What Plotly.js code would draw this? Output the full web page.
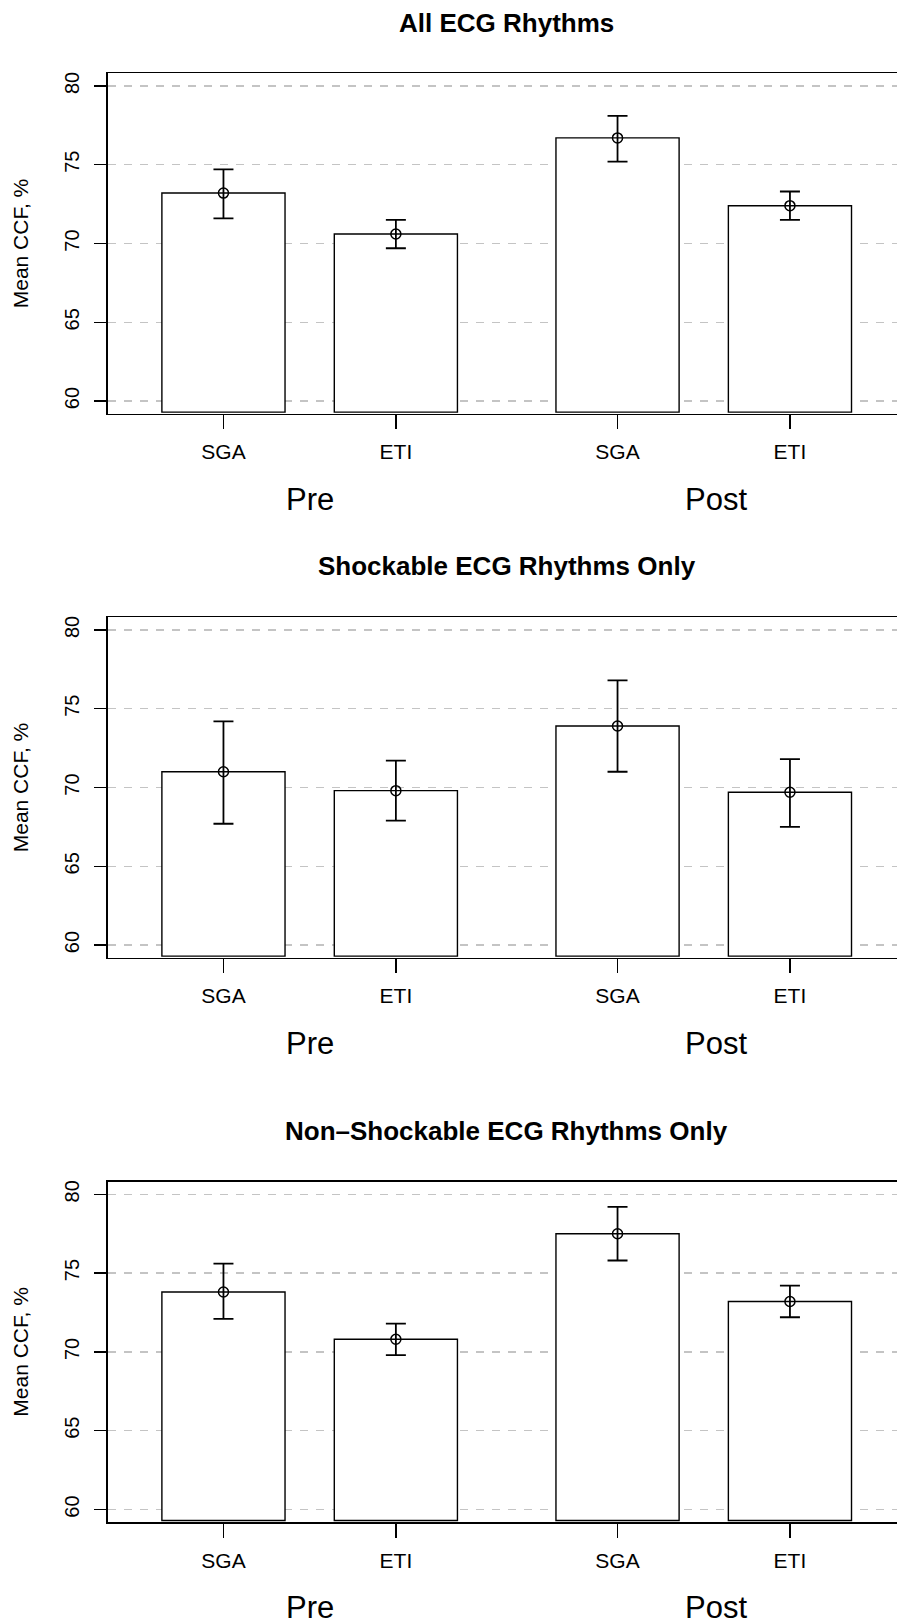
<!DOCTYPE html>
<html>
<head>
<meta charset="utf-8">
<script src="https://cdn.plot.ly/plotly-3.0.1.min.js"></script>
<style>
  html, body { margin: 0; padding: 0; background: #ffffff; overflow: hidden; }
  #chart { width: 920px; height: 1624px; }
</style>
</head>
<body>
<div id="chart"></div>
<script>
// ---- data ----
const categories = ['SGA', 'ETI', 'SGA', 'ETI'];
const xPositions = [1.3, 2.7, 4.5, 5.9];
const groupLabels = ['Pre', 'Post'];
const groupPositions = [2.0, 5.3];
const panelTitles = ['All ECG Rhythms', 'Shockable ECG Rhythms Only', 'Non\u2013Shockable ECG Rhythms Only'];
const yTicks = [60, 65, 70, 75, 80];

const allMean = [73.2, 70.6, 76.7, 72.4];
const allLow  = [71.6, 69.7, 75.2, 71.5];
const allHigh = [74.7, 71.5, 78.1, 73.3];

const shockMean = [71.0, 69.8, 73.9, 69.7];
const shockLow  = [67.7, 67.9, 71.0, 67.5];
const shockHigh = [74.2, 71.7, 76.8, 71.8];

const nonMean = [73.8, 70.8, 77.5, 73.2];
const nonLow  = [72.1, 69.8, 75.8, 72.2];
const nonHigh = [75.6, 71.8, 79.2, 74.2];

const panels = [
  {mean: allMean, low: allLow, high: allHigh},
  {mean: shockMean, low: shockLow, high: shockHigh},
  {mean: nonMean, low: nonLow, high: nonHigh}
];

// ---- layout geometry (pixels) ----
const W = 920, H = 1624;
const plotLeft = 107.7, plotRight = 905.7;
const plotTop = 73.3, plotBottom = 413.7;
const offsets = [0, 544, 1108.4];
const titleOffsets = [0, 542.6, 1108.4];
const BAR_BASE = 59.3;
const FONT = '"Liberation Sans", Arial, Helvetica, sans-serif';

const traces = [];
const layout = {
  width: W, height: H,
  margin: {l: 0, r: 0, t: 0, b: 0},
  paper_bgcolor: '#ffffff',
  plot_bgcolor: '#ffffff',
  showlegend: false,
  font: {family: FONT, color: '#000000'},
  annotations: []
};

panels.forEach((p, i) => {
  const k = i === 0 ? '' : String(i + 1);
  const xa = 'x' + k, ya = 'y' + k;
  const off = offsets[i];

  traces.push({
    type: 'bar',
    x: xPositions,
    y: p.mean.map(v => v - BAR_BASE),
    base: BAR_BASE,
    width: 1,
    xaxis: xa, yaxis: ya,
    marker: {color: '#ffffff', line: {color: '#000000', width: 1.4}},
    hoverinfo: 'skip'
  });
  traces.push({
    type: 'scatter',
    mode: 'markers',
    x: xPositions,
    y: p.mean,
    xaxis: xa, yaxis: ya,
    marker: {symbol: 'circle-open', size: 10, color: '#000000', line: {width: 1.5, color: '#000000'}},
    error_y: {
      type: 'data', symmetric: false,
      array: p.high.map((h, j) => h - p.mean[j]),
      arrayminus: p.mean.map((m, j) => m - p.low[j]),
      color: '#000000', thickness: 1.8, width: 10
    }
  });

  layout['xaxis' + k] = {
    domain: [plotLeft / W, plotRight / W],
    anchor: ya,
    range: [0.36, 6.84],
    tickvals: xPositions,
    ticktext: categories,
    ticks: 'outside', ticklen: 14, tickwidth: 1.3, tickcolor: '#000000',
    ticklabelstandoff: 5,
    tickfont: {size: 21, family: FONT, color: '#000000'},
    showline: true, mirror: true, linecolor: '#000000', linewidth: 1.5,
    showgrid: false, zeroline: false, fixedrange: true
  };
  layout['yaxis' + k] = {
    domain: [1 - (plotBottom + off) / H, 1 - (plotTop + off) / H],
    anchor: xa,
    range: [59.2, 80.8],
    tickvals: yTicks,
    ticks: 'outside', ticklen: 12, tickwidth: 1.3, tickcolor: '#000000',
    tickangle: -90,
    ticklabelstandoff: 7,
    tickfont: {size: 20, family: FONT, color: '#000000'},
    showline: true, mirror: true, linecolor: '#000000', linewidth: 1.5,
    showgrid: true, gridcolor: '#c4c4c4', gridwidth: 1.5, griddash: '8px,8px',
    zeroline: false, fixedrange: true,
    title: {text: 'Mean CCF, %', font: {size: 21, family: FONT, color: '#000000'}, standoff: 27}
  };

  // panel title
  layout.annotations.push({
    xref: 'paper', yref: 'paper',
    x: (plotLeft + plotRight) / 2 / W,
    y: 1 - (23 + titleOffsets[i]) / H,
    xanchor: 'center', yanchor: 'middle',
    text: '<b>' + panelTitles[i] + '</b>',
    showarrow: false,
    font: {size: 26, family: FONT, color: '#000000'}
  });
  // group labels
  groupLabels.forEach((g, j) => {
    layout.annotations.push({
      xref: xa, yref: 'paper',
      x: groupPositions[j],
      y: 1 - (499 + off) / H,
      xanchor: 'center', yanchor: 'middle',
      text: g, showarrow: false,
      font: {size: 31, family: FONT, color: '#000000'}
    });
  });
});

Plotly.newPlot('chart', traces, layout, {staticPlot: true, displayModeBar: false});
</script>
</body>
</html>
